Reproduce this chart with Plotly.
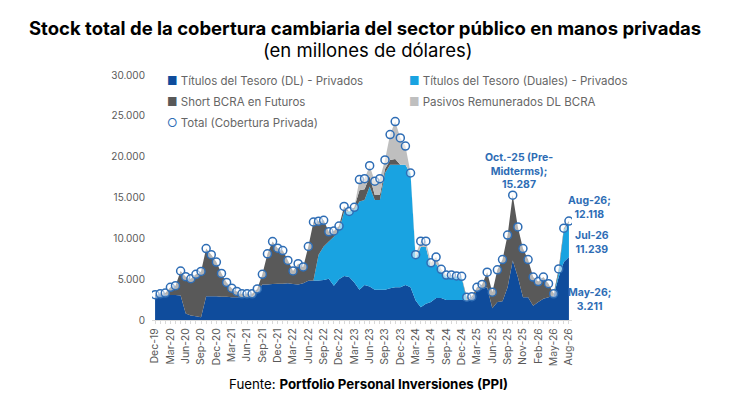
import plotly.graph_objects as go

months = ["Dec-19","Jan-20","Feb-20","Mar-20","Apr-20","May-20","Jun-20","Jul-20","Aug-20","Sep-20",
          "Oct-20","Nov-20","Dec-20","Jan-21","Feb-21","Mar-21","Apr-21","May-21","Jun-21","Jul-21",
          "Aug-21","Sep-21","Oct-21","Nov-21","Dec-21","Jan-22","Feb-22","Mar-22","Apr-22","May-22",
          "Jun-22","Jul-22","Aug-22","Sep-22","Oct-22","Nov-22","Dec-22","Jan-23","Feb-23","Mar-23",
          "Apr-23","May-23","Jun-23","Jul-23","Aug-23","Sep-23","Oct-23","Nov-23","Dec-23","Jan-24",
          "Feb-24","Mar-24","Apr-24","May-24","Jun-24","Jul-24","Aug-24","Sep-24","Oct-24","Nov-24",
          "Dec-24","Jan-25","Feb-25","Mar-25","Apr-25","May-25","Jun-25","Jul-25","Aug-25","Sep-25",
          "Oct.-25 (Pre-Midterms)","Oct-25","Nov-25","Dec-25","Jan-26","Feb-26","Mar-26","Apr-26",
          "May-26","Jun-26","Jul-26","Aug-26"]

# values in millions of USD
titulos_dl = [3100,3100,3100,3050,3050,3000,800,550,450,350,
              2900,2900,2900,2850,2850,2800,2800,2800,2800,2850,
              3400,4350,4350,4400,4450,4450,4500,4400,4350,4500,
              4800,4850,4850,4900,5050,4200,5000,5400,5250,4600,
              3700,4300,4100,3700,3700,3700,3900,4000,4000,4300,
              4000,2400,1550,2000,2200,2700,2700,2450,2450,2450,
              2450,2450,2600,3600,3800,4000,1450,2200,2300,4000,
              7300,5250,2800,2800,1750,2200,2600,2800,
              3000,5250,7100,7700]
duales = [0]*32 + [3150,4100,4550,6000,6000,7900,8050,8900,
              10800,10400,12250,11000,11000,14300,15100,15000,15000,14700,
              13900,5100,7400,6950,4300,4200,3200,2800,2800,2800,
              2750] + [0]*18 + [600,3900,4200]
short_bcra = [0,100,200,950,1150,3000,4500,4500,5150,5600,
              5850,5100,4200,2850,1750,1100,700,400,400,350,
              400,1250,3750,5200,4350,4050,2800,1600,2550,2000,
              4200,7150,4100,3200,1200,700,500,600,0,300,
              1400,1300,1250,600,600,500,600,700,0,0,
              0,0,0,0,0,0,0,0,0,0,
              0,350,250,400,550,1850,1950,3950,5100,6400,
              7987,6150,5950,4600,3500,2500,2650,1650,
              211,400,239,218]
pasivos = [0]*40 + [1300,1300,1300,1700,2000,1100,3100,4600,3300,2300,
              100,500,700,700,500,800,300,250,250,150,
              150] + [0]*21
total = [3100,3200,3300,4000,4200,6000,5300,5050,5600,5950,
         8750,8000,7100,5700,4600,3900,3500,3200,3200,3200,
         3800,5600,8100,9600,8800,8500,7300,6000,6900,6500,
         9000,12000,12100,12200,10800,10900,11500,13900,13300,13800,
         17200,17300,18900,17000,17300,19600,22700,24300,22300,21300,
         18000,8000,9650,9650,7000,7700,6200,5500,5500,5400,
         5350,2800,2850,4000,4350,5850,3400,6150,7400,10400,
         15287,11400,8750,7400,5250,4700,5250,4450,
         3211,6250,11239,12118]

tick_labels = ["Dec-19","Mar-20","Jun-20","Sep-20","Dec-20","Mar-21","Jun-21","Sep-21","Dec-21",
               "Mar-22","Jun-22","Sep-22","Dec-22","Mar-23","Jun-23","Sep-23","Dec-23","Mar-24",
               "Jun-24","Sep-24","Dec-24","Mar-25","Jun-25","Sep-25","Nov-25","Feb-26","May-26","Aug-26"]

series_names = ["Títulos del Tesoro (DL) - Privados", "Títulos del Tesoro (Duales) - Privados",
                "Short BCRA en Futuros", "Pasivos Remunerados DL BCRA", "Total (Cobertura Privada)"]

C_DL = "#0F4C9C"
C_DU = "#19A3E1"
C_SH = "#595959"
C_PA = "#BFBFBF"
C_TOT = "#2E6DB5"

x = list(range(len(months)))
fig = go.Figure()
for vals, name, col in [(titulos_dl, series_names[0], C_DL), (duales, series_names[1], C_DU),
                        (short_bcra, series_names[2], C_SH), (pasivos, series_names[3], C_PA)]:
    fig.add_trace(go.Scatter(x=x, y=vals, name=name, stackgroup="one", mode="none",
                             fillcolor=col, showlegend=False, customdata=months,
                             hovertemplate="%{customdata}: %{y}<extra>" + name + "</extra>"))
fig.add_trace(go.Scatter(x=x, y=total, name=series_names[4], mode="markers", showlegend=False,
                         marker=dict(symbol="circle", size=8, color="rgba(255,255,255,0.55)",
                                     line=dict(color=C_TOT, width=1.5))))

tickvals = list(range(len(months)))
ticktext = []
li = 0
for i in tickvals:
    if i % 3 == 0:
        ticktext.append(tick_labels[li]); li += 1
    else:
        ticktext.append("")

PLOT_H = 245
fig.update_layout(
    width=730, height=404,
    margin=dict(l=144, r=166, t=67, b=92),
    paper_bgcolor="white", plot_bgcolor="white",
    separators=",.",
    font=dict(family="Inter", color="#595959", size=10),
    xaxis=dict(range=[-0.6, 81.6], tickmode="array", tickvals=tickvals, ticktext=ticktext,
               tickangle=-90, showline=True, linecolor="#D9D9D9", ticks="outside", ticklen=3,
               tickcolor="#D9D9D9", showgrid=False, zeroline=False, tickfont=dict(size=10.5, color="#595959")),
    yaxis=dict(range=[0, 30000], tickvals=[0,5000,10000,15000,20000,25000,30000], tickformat=",",
               showgrid=False, zeroline=False, showline=False, ticks="", ticklabelstandoff=6,
               tickfont=dict(size=10, color="#595959")),
)

def py(fig_y):
    # figure pixel y (from top) -> paper coordinate
    return 1 + (67 - fig_y) / PLOT_H

fig.add_annotation(xref="paper", yref="paper", x=0.5 + 3/420, y=py(20), xanchor="center", yanchor="middle",
                   showarrow=False, text="<b>Stock total de la cobertura cambiaria del sector público en manos privadas</b>",
                   font=dict(size=18.5, color="black", family="Inter"))
fig.add_annotation(xref="paper", yref="paper", x=0.5 + 5/420, y=py(42), xanchor="center", yanchor="middle",
                   showarrow=False, text="(en millones de dólares)",
                   font=dict(size=18.5, color="black", family="Inter"))

# legend drawn as text entries
leg = [(0.031, py(73), C_DL, "■", series_names[0]), (0.606, py(73), C_DU, "■", series_names[1]),
       (0.031, py(94), C_SH, "■", series_names[2]), (0.606, py(94), C_PA, "■", series_names[3]),
       (0.031, py(115), C_TOT, "○", series_names[4])]
for lx, ly, col, sym, txt in leg:
    fig.add_annotation(xref="paper", yref="paper", x=lx, y=ly, xanchor="left", yanchor="middle",
                       showarrow=False, text=f'<span style="color:{col}">{sym}</span> {txt}',
                       font=dict(size=11.5, color="#666666"))

lab_font = dict(size=10.5, color=C_TOT, family="Inter")
fig.add_annotation(x=70, y=total[70], text="<b>Oct.-25 (Pre-<br>Midterms);<br>15.287</b>", showarrow=False,
                   xshift=6, yshift=2, yanchor="bottom", xanchor="center", font=lab_font)
fig.add_annotation(x=81, y=total[81], text="<b>Aug-26;<br>12.118</b>", showarrow=False,
                   xshift=-3, yshift=-2, xanchor="left", yanchor="bottom", font=lab_font, align="center")
fig.add_annotation(x=81, y=total[80], text="<b>Jul-26<br>11.239</b>", showarrow=False,
                   xshift=4, yshift=-14, xanchor="left", yanchor="middle", font=lab_font, align="center")
fig.add_annotation(x=81, y=total[78], text="<b>May-26;<br>3.211</b>", showarrow=False,
                   xshift=-3, yshift=-6, xanchor="left", yanchor="middle", font=lab_font, align="center")

fig.add_annotation(xref="paper", yref="paper", x=0.5 + 6/420, y=py(376), yanchor="middle", xanchor="center",
                   text="Fuente: <b>Portfolio Personal Inversiones (PPI)</b>", showarrow=False,
                   font=dict(size=13.3, color="black"))

fig.write_html("out.html")
